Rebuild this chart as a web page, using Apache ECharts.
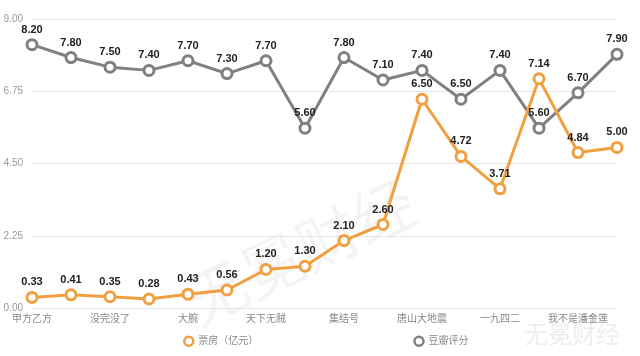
<!DOCTYPE html>
<html><head><meta charset="utf-8">
<script src="https://cdn.jsdelivr.net/npm/echarts@6/dist/echarts.min.js"></script>
<style>html,body{margin:0;padding:0;background:#fff}#c{width:640px;height:356px}</style>
</head><body><div id="c"></div>
<script>
const categories = ['甲方乙方','不见不散','没完没了','一声叹息','大腕','手机','天下无贼','夜宴','集结号','非诚勿扰','唐山大地震','非诚勿扰2','一九四二','私人订制','我不是潘金莲','老炮儿'];
const boxOffice = [0.33,0.41,0.35,0.28,0.43,0.56,1.20,1.30,2.10,2.60,6.50,4.72,3.71,7.14,4.84,5.00];
const doubanScore = [8.20,7.80,7.50,7.40,7.70,7.30,7.70,5.60,7.80,7.10,7.40,6.50,7.40,5.60,6.70,7.90];
const yTicks = [0, 2.25, 4.5, 6.75, 9];
const seriesNames = ['票房（亿元）','豆瓣评分'];

const chart = echarts.init(document.getElementById('c'), null, {renderer:'canvas'});
const fontFamily = '"Liberation Sans", Arial, "Noto Sans CJK SC", sans-serif';
function lineSeries(name, data, color){
  return {
    name, type:'line', data,
    symbol:'circle', symbolSize:10, showAllSymbol:true,
    lineStyle:{color, width:3},
    itemStyle:{color:'#fff', borderColor:color, borderWidth:3},
    label:{show:true, position:'top', distance:3, color:'#222', fontSize:11, fontWeight:'bold', fontFamily,
      formatter:p=>p.value.toFixed(2)},
    emphasis:{disabled:true}, animation:false
  };
}
chart.setOption({
  animation:false,
  backgroundColor:'#fff',
  grid:{left:32, right:23, top:19, bottom:48},
  legend:{
    bottom:4, left:178, itemGap:155, itemWidth:9, itemHeight:9,
    icon:'circle',
    textStyle:{color:'#888', fontSize:10, fontFamily},
    data:[
      {name:seriesNames[0], itemStyle:{color:'#fff', borderColor:'#F0A040', borderWidth:2.5}},
      {name:seriesNames[1], itemStyle:{color:'#fff', borderColor:'#808080', borderWidth:2.5}}
    ]
  },
  xAxis:{
    type:'category', data:categories, boundaryGap:false,
    axisLine:{show:false}, axisTick:{show:false},
    axisLabel:{interval:1, color:'#888', fontSize:10, margin:6, fontFamily}
  },
  yAxis:{
    type:'value', min:yTicks[0], max:yTicks[yTicks.length-1], interval:2.25,
    axisLine:{show:false}, axisTick:{show:false},
    axisLabel:{color:'#999', fontSize:10, margin:9, fontFamily, formatter:v=>v.toFixed(2), align:'right'},
    splitLine:{lineStyle:{color:'#e6e6e6', width:1}}
  },
  graphic:[
    {type:'text', left:175, top:170, rotation:Math.PI/7, z:0, silent:true,
     style:{text:'无冕财经', fontSize:62, fill:'rgba(0,0,0,0.045)', fontFamily:'"Noto Sans CJK SC"'}},
    {type:'text', right:20, bottom:10, z:0, silent:true,
     style:{text:'无冕财经', fontSize:24, fill:'rgba(0,0,0,0.07)', fontFamily:'"Noto Sans CJK SC"'}}
  ],
  series:[
    lineSeries(seriesNames[1], doubanScore, '#808080'),
    lineSeries(seriesNames[0], boxOffice, '#F0A040')
  ]
});
</script></body></html>
